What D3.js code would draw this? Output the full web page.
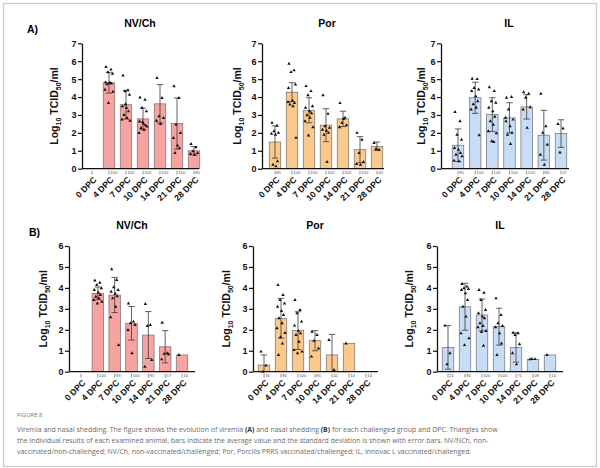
<!DOCTYPE html>
<html>
<head>
<meta charset="utf-8">
<script src="https://cdn.jsdelivr.net/npm/d3@7"></script>
<style>
  body { margin: 0; background: #fff; }
  svg { display: block; font-family: "Liberation Sans", Arial, sans-serif; }
</style>
</head>
<body>
<div id="fig"></div>
<script>
// categories
var days = ["0 DPC", "4 DPC", "7 DPC", "10 DPC", "14 DPC", "21 DPC", "28 DPC"];

// A) viremia - NV/Ch
var aNvMean = [0, 4.8, 3.57, 2.78, 3.62, 2.52, 1.0];
var aNvSd   = [0, 0.58, 0.8, 0.6, 1.07, 1.43, 0.24];
var aNvPct  = ["", "100", "100", "100", "100", "100", "85"];
var aNvPts  = [
  [],
  [5.68, 5.53, 5.38, 5.3, 4.82, 4.78, 4.75, 4.72, 4.8, 4.41, 4.3, 3.67],
  [5.2, 4.38, 4.32, 4.13, 3.48, 3.39, 3.2, 3.0, 2.83, 2.74, 2.68, 3.6],
  [3.98, 3.85, 3.4, 3.2, 2.64, 2.51, 2.42, 2.27, 2.18, 1.99, 2.35, 2.6],
  [5.06, 3.95, 2.92, 2.83, 2.68, 2.5],
  [4.6, 3.95, 2.46, 1.99, 1.71, 1.3, 1.15, 0.88],
  [1.38, 1.19, 0.97, 0.88, 0.82, 0.78]
];

// A) viremia - Por
var aPorMean = [1.49, 4.27, 3.26, 2.43, 2.78, 1.06, 1.25];
var aPorSd   = [0.9, 0.53, 0.7, 0.92, 0.43, 0.73, 0.24];
var aPorPct  = ["85", "100", "100", "100", "100", "100", "43"];
var aPorPts  = [
  [2.56, 2.4, 2.09, 2.0, 1.95, 1.9, 0.41, 0.22, 0.13],
  [5.86, 5.49, 5.39, 4.7, 4.51, 3.8, 3.67, 3.58, 3.49, 3.72, 1.72],
  [4.61, 4.33, 4.1, 3.49, 3.4, 3.2, 3.1, 2.98, 2.85, 2.65, 2.31, 1.85],
  [4.1, 3.06, 2.37, 2.28, 2.18, 2.12, 2.0, 1.9, 0.37],
  [3.66, 2.84, 2.56, 2.43, 2.31, 2.78],
  [2.0, 1.62, 0.88, 0.37, 0.26, 0.22],
  [1.44, 1.06, 1.1]
];

// A) viremia - IL
var aIlMean = [1.31, 3.96, 3.02, 2.84, 3.45, 1.87, 1.96];
var aIlSd   = [0.91, 0.87, 0.94, 0.84, 0.68, 1.39, 0.77];
var aIlPct  = ["85", "100", "100", "100", "100", "85", "57"];
var aIlPts  = [
  [3.17, 2.65, 1.9, 1.62, 1.16, 1.06, 0.88, 0.78, 0.41, 0.45, 0.69],
  [5.02, 5.0, 4.51, 4.42, 4.33, 4.05, 3.77, 3.6, 3.4, 3.3, 1.87],
  [4.55, 4.33, 3.77, 3.68, 3.4, 3.2, 2.9, 2.65, 2.45, 2.09, 1.98, 1.53, 1.49],
  [3.96, 4.0, 3.3, 2.74, 2.65, 2.37, 2.0, 1.9, 1.38, 2.84],
  [4.27, 4.18, 3.96, 3.43, 3.3, 2.28],
  [4.18, 2.37, 2.0, 1.34, 0.78, 0.22],
  [2.5, 2.24, 0.91]
];

// B) nasal shedding - NV/Ch
var bNvMean = [0, 3.74, 3.66, 2.31, 1.75, 1.19, 0.8];
var bNvSd   = [0, 0.3, 0.84, 0.8, 1.12, 0.77, 0];
var bNvPct  = ["", "100", "93", "100", "85", "57", "14"];
var bNvPts  = [
  [],
  [4.35, 4.25, 4.14, 3.98, 3.9, 3.78, 3.66, 3.58, 3.5, 3.42, 3.34, 3.26],
  [4.89, 4.38, 4.03, 3.9, 3.82, 3.72, 3.6, 3.5, 3.1, 2.6, 1.27],
  [3.26, 2.39, 2.31, 2.23, 1.99, 0.88],
  [3.23, 2.23, 2.18, 0.56, 0.24],
  [2.34, 0.88, 0.85, 0.83, 0.59],
  [0.8]
];

// B) nasal shedding - Por
var bPorMean = [0.32, 2.55, 1.96, 1.48, 0.8, 1.35, 0];
var bPorSd   = [0.48, 0.95, 0.9, 0.48, 0.98, 0, 0];
var bPorPct  = ["35", "85", "100", "85", "42", "14", "14"];
var bPorPts  = [
  [0.96, 0.29, 0.0],
  [4.14, 3.66, 3.42, 3.26, 3.1, 2.9, 2.71, 2.55, 2.31, 2.07, 1.85, 1.65, 1.35, 0.8],
  [3.42, 2.95, 2.79, 2.39, 2.2, 1.95, 1.83, 1.75, 1.43, 1.03, 0.96, 0.88],
  [1.91, 1.75, 1.48, 1.11, 0.72],
  [1.51, 0.08],
  [1.35],
  []
];

// B) nasal shedding - IL
var bIlMean = [1.16, 3.1, 2.71, 2.15, 1.16, 0.59, 0.8];
var bIlSd   = [1.04, 1.12, 0.76, 0.88, 0.7, 0, 0];
var bIlPct  = ["21", "85", "100", "100", "71", "28", "14"];
var bIlPts  = [
  [2.2, 0.88, 0.35],
  [4.19, 4.06, 3.98, 3.95, 3.9, 3.74, 3.42, 3.1, 2.63, 1.83, 1.59, 1.27],
  [3.9, 3.77, 3.42, 2.95, 2.79, 2.63, 2.55, 2.31, 2.18, 2.12, 1.94, 1.9, 1.24],
  [3.5, 2.71, 2.31, 2.18, 2.12, 1.83, 1.35, 0.8],
  [1.86, 1.83, 1.75, 1.31, 0.88, 0.35],
  [0.59, 0.6, 0.61],
  [0.8]
];

var pink = "#f7a3a1", orange = "#fbc98c", blue = "#c8ddf5";

// panel layout: y axis x, first/last bar centre, axis end, baseline, top, ymax
var panels = [
  {title: "NV/Ch", mean: aNvMean, sd: aNvSd, pts: aNvPts, pct: aNvPct, fill: pink,
   ax: 82, x0: 92, x1: 194, xe: 199, yb: 168.7, yt: 43.3, ymax: 7, lab: 24, tx: 140, ty: 27},
  {title: "Por", mean: aPorMean, sd: aPorSd, pts: aPorPts, pct: aPorPct, fill: orange,
   ax: 262, x0: 275, x1: 377, xe: 384, yb: 168.7, yt: 43.3, ymax: 7, lab: 21, tx: 327, ty: 27},
  {title: "IL", mean: aIlMean, sd: aIlSd, pts: aIlPts, pct: aIlPct, fill: blue,
   ax: 441, x0: 458, x1: 561, xe: 569, yb: 168.7, yt: 43.3, ymax: 7, lab: 16, tx: 509, ty: 27},
  {title: "NV/Ch", mean: bNvMean, sd: bNvSd, pts: bNvPts, pct: bNvPct, fill: pink,
   ax: 69, x0: 81, x1: 182, xe: 195, yb: 371.7, yt: 246, ymax: 6, lab: 22, tx: 132, ty: 229},
  {title: "Por", mean: bPorMean, sd: bPorSd, pts: bPorPts, pct: bPorPct, fill: orange,
   ax: 253, x0: 264, x1: 366, xe: 378, yb: 371.7, yt: 246, ymax: 6, lab: 23, tx: 315, ty: 229},
  {title: "IL", mean: bIlMean, sd: bIlSd, pts: bIlPts, pct: bIlPct, fill: blue,
   ax: 437, x0: 448, x1: 550, xe: 563, yb: 371.7, yt: 246, ymax: 6, lab: 24, tx: 500, ty: 229}
];

// horizontal spread of the animal points inside a bar
var jitter = [-3, 2, -1, 3.5, -3.5, 0.5, 2.5, -2, 1, -4, 4, -0.5, 1.5, -2.5];

var svg = d3.select("#fig")
  .append("svg")
    .attr("width", 600)
    .attr("height", 468);

// frame
svg.append("rect")
  .attr("x", 3.5).attr("y", 3.5)
  .attr("width", 593).attr("height", 463)
  .attr("fill", "none")
  .attr("stroke", "#c9c9c9")
  .attr("stroke-width", 1.2);

svg.append("text").attr("x", 27).attr("y", 33)
  .attr("font-weight", "bold").attr("font-size", 10.5).text("A)");
svg.append("text").attr("x", 29).attr("y", 236)
  .attr("font-weight", "bold").attr("font-size", 10.5).text("B)");

panels.forEach(function(p) {
  var g = svg.append("g");

  var x = d3.scalePoint()
    .domain(days)
    .range([p.x0, p.x1]);
  var y = d3.scaleLinear()
    .domain([0, p.ymax])
    .range([p.yb, p.yt]);
  var bw = 11.5;

  // title
  g.append("text")
    .attr("x", p.tx).attr("y", p.ty)
    .attr("text-anchor", "middle")
    .attr("font-weight", "bold")
    .attr("font-size", 10.5)
    .text(p.title);

  // bars
  g.selectAll("rect.bar")
    .data(days)
    .enter()
    .append("rect")
      .attr("class", "bar")
      .attr("x", function(d) { return x(d) - bw / 2; })
      .attr("width", bw)
      .attr("y", function(d, i) { return y(p.mean[i]); })
      .attr("height", function(d, i) { return p.yb - y(p.mean[i]); })
      .attr("fill", p.fill)
      .attr("stroke", function(d, i) { return p.mean[i] > 0 ? "#6e6e6e" : "none"; })
      .attr("stroke-width", 0.7);

  // error bars
  days.forEach(function(d, i) {
    if (!p.sd[i]) return;
    var lo = Math.max(0, p.mean[i] - p.sd[i]), hi = p.mean[i] + p.sd[i];
    var cx = x(d);
    g.append("line").attr("x1", cx).attr("x2", cx)
      .attr("y1", y(lo)).attr("y2", y(hi))
      .attr("stroke", "#3a3a3a").attr("stroke-width", 0.8);
    [lo, hi].forEach(function(v) {
      if (v <= 0) return;
      g.append("line").attr("x1", cx - 3.2).attr("x2", cx + 3.2)
        .attr("y1", y(v)).attr("y2", y(v))
        .attr("stroke", "#3a3a3a").attr("stroke-width", 0.8);
    });
  });

  // individual animals
  var tri = d3.symbol().type(d3.symbolTriangle).size(5);
  days.forEach(function(d, i) {
    g.selectAll(null)
      .data(p.pts[i])
      .enter()
      .append("path")
        .attr("d", tri)
        .attr("transform", function(v, j) {
          return "translate(" + (x(d) + jitter[j % jitter.length]) + "," + y(v) + ")";
        })
        .attr("fill", "#111");
  });

  // y axis
  var yAxis = g.append("g")
    .attr("transform", "translate(" + p.ax + ",0)")
    .call(d3.axisLeft(y).ticks(p.ymax).tickSize(4).tickSizeOuter(0).tickFormat(d3.format("d")));
  yAxis.select(".domain").attr("stroke", "#111").attr("stroke-width", 1.3);
  yAxis.selectAll(".tick line").attr("stroke", "#111").attr("stroke-width", 1.2);
  yAxis.selectAll(".tick text")
    .attr("font-family", "Liberation Sans, Arial, sans-serif")
    .attr("font-weight", "bold")
    .attr("font-size", 9)
    .attr("x", -5.5)
    .attr("fill", "#111");

  // x axis line
  g.append("line")
    .attr("x1", p.ax).attr("x2", p.xe)
    .attr("y1", p.yb).attr("y2", p.yb)
    .attr("stroke", "#111").attr("stroke-width", 1.3);

  // small percentage marks under each bar
  days.forEach(function(d, i) {
    g.append("line").attr("x1", x(d)).attr("x2", x(d))
      .attr("y1", p.yb + 2.2).attr("y2", p.yb + 5.8)
      .attr("stroke", "#444").attr("stroke-width", 0.6);
    g.append("text")
      .attr("x", x(d) + 1.2).attr("y", p.yb + 5.6)
      .attr("font-size", 4.3)
      .attr("fill", "#555")
      .text(p.pct[i]);
  });

  // rotated category labels
  g.selectAll("text.cat")
    .data(days)
    .enter()
    .append("text")
      .attr("class", "cat")
      .attr("transform", function(d) { return "translate(" + (x(d) + 3) + "," + (p.yb + 9.5) + ")rotate(-45)"; })
      .attr("text-anchor", "end")
      .attr("dy", "0.35em")
      .attr("font-weight", "bold")
      .attr("font-size", 8.6)
      .attr("fill", "#111")
      .text(function(d) { return d; });

  // y label
  var yl = g.append("text")
    .attr("transform", "translate(" + (p.ax - p.lab) + "," + ((p.yb + p.yt) / 2) + ")rotate(-90)")
    .attr("text-anchor", "middle")
    .attr("font-weight", "bold")
    .attr("font-size", 10.5)
    .attr("fill", "#111");
  yl.append("tspan").text("Log");
  yl.append("tspan").attr("font-size", 7).attr("dy", 2.5).text("10");
  yl.append("tspan").attr("dy", -2.5).text(" TCID");
  yl.append("tspan").attr("font-size", 7).attr("dy", 2.5).text("50");
  yl.append("tspan").attr("dy", -2.5).text("/ml");
});

// caption
svg.append("text")
  .attr("x", 17).attr("y", 417)
  .attr("font-family", "Open Sans, sans-serif")
  .attr("font-size", 6)
  .attr("fill", "#777")
  .text("FIGURE 8");

var capLines = [
  [["Viremia and nasal shedding. The figure shows the evolution of viremia ", false], ["(A)", true],
   [" and nasal shedding ", false], ["(B)", true],
   [" for each challenged group and DPC. Triangles show", false]],
  [["the individual results of each examined animal, bars indicate the average value and the standard deviation is shown with error bars. NV/NCh, non-", false]],
  [["vaccinated/non-challenged; NV/Ch, non-vaccinated/challenged; Por, Porcilis PRRS vaccinated/challenged; IL, Innovac L vaccinated/challenged.", false]]
];
capLines.forEach(function(line, k) {
  var t = svg.append("text")
    .attr("x", 17).attr("y", 431.5 + k * 11.3)
    .attr("font-family", "Open Sans, sans-serif")
    .attr("font-size", 6.95)
    .attr("fill", "#6a6a6a");
  line.forEach(function(s) {
    t.append("tspan")
      .attr("font-weight", s[1] ? "bold" : "normal")
      .attr("fill", s[1] ? "#333" : "#6a6a6a")
      .text(s[0]);
  });
});
</script>
</body>
</html>
